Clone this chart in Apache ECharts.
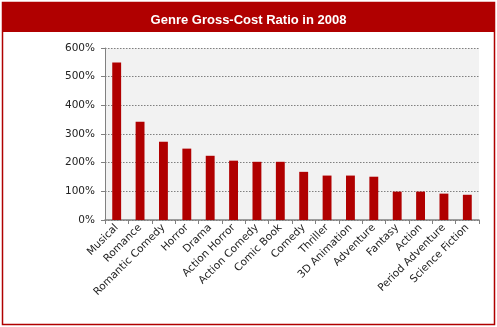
<!DOCTYPE html>
<html><head><meta charset="utf-8">
<script src="https://cdn.jsdelivr.net/npm/echarts@6/dist/echarts.min.js"></script>
<style>html,body{margin:0;padding:0;background:#fff}#c{width:497px;height:327px}</style>
</head><body><div id="c"></div>
<script>
var categories = ["Musical","Romance","Romantic Comedy","Horror","Drama","Action Horror","Action Comedy","Comic Book","Comedy","Thriller","3D Animation","Adventure","Fantasy","Action","Period Adventure","Science Fiction"];
var ratios = [549, 343, 273, 249, 224, 207, 203, 203, 168, 155, 155, 151, 99, 99, 92, 88];
var yTicks = [0, 100, 200, 300, 400, 500, 600];
var chartTitle = "Genre Gross-Cost Ratio in 2008";

var chart = echarts.init(document.getElementById('c'), null, {renderer:'canvas'});
var font = '"DejaVu Sans", Verdana, sans-serif';
chart.setOption({
  animation:false,
  backgroundColor:'#fff',
  graphic:[
    {type:'rect', shape:{x:2.5,y:2.5,width:492,height:322}, style:{fill:'none', stroke:'#B00000', lineWidth:1.5}, z:-1},
    {type:'rect', shape:{x:2,y:2,width:493,height:30}, style:{fill:'#B00000'}, z:-1}
  ],
  title:{text:chartTitle, left:'center', top:9, textStyle:{color:'#fff', fontFamily:'"Liberation Sans", Arial, sans-serif', fontSize:13, fontWeight:'bold'}},
  grid:{left:105, right:18, top:48, bottom:107, backgroundColor:'#F2F2F2', show:true, borderWidth:0},
  xAxis:{type:'category', data:categories, boundaryGap:true,
    axisLine:{lineStyle:{color:'#808080', width:1.5}},
    axisTick:{show:true, length:4, lineStyle:{color:'#808080'}},
    axisLabel:{rotate:45, interval:0, fontFamily:font, fontSize:10.5, color:'#222', margin:6}},
  yAxis:{type:'value', min:yTicks[0], max:yTicks[yTicks.length-1], interval:100,
    axisLine:{show:true, lineStyle:{color:'#808080', width:1}},
    axisTick:{show:true, length:4, lineStyle:{color:'#808080'}},
    splitLine:{lineStyle:{color:'#808080', type:[1.5,1.5], width:1}},
    axisLabel:{formatter:'{value}%', fontFamily:font, fontSize:10.5, color:'#222', margin:10}},
  series:[{type:'bar', data:ratios, barWidth:'38%', itemStyle:{color:'#B00000'}}]
});
</script></body></html>
